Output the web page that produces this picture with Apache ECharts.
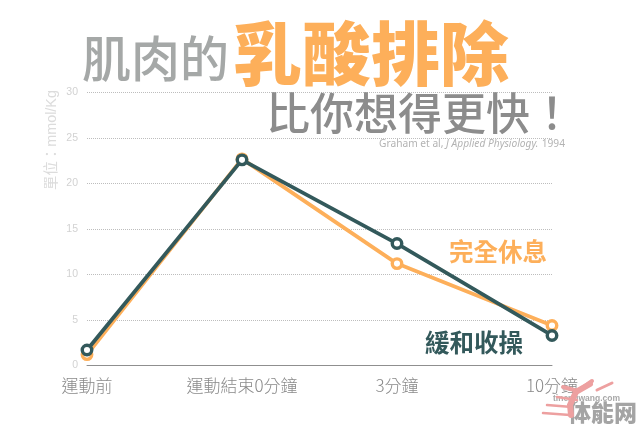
<!DOCTYPE html>
<html><head><meta charset="utf-8">
<script src="https://cdn.jsdelivr.net/npm/echarts@6/dist/echarts.min.js"></script>
<style>html,body{margin:0;padding:0;background:#fff}#c{width:640px;height:424px}</style></head>
<body><div id="c"></div>
<script>
const categories = ['運動前','運動結束0分鐘','3分鐘','10分鐘'];
const recovery = [1.2, 22.7, 11.2, 4.4];
const cooldown = [1.7, 22.6, 13.4, 3.3];
const yTicks = [0,5,10,15,20,25,30];
const CJK = '"Noto Sans CJK TC","Noto Sans CJK SC",sans-serif';
const chart = echarts.init(document.getElementById('c'), null, {renderer:'canvas'});
function ser(name,data,color,z){
  return {name,type:'line',data,z,symbol:'circle',symbolSize:9.5,showSymbol:true,
    lineStyle:{color,width:3.8},
    itemStyle:{color:'#fff',borderColor:color,borderWidth:3.4},animation:false};
}
function t(text,x,y,size,color,weight,extra){
  return {type:'text',left:x,top:y,z:20,silent:true,style:Object.assign({text,fontSize:size,fill:color,fontWeight:weight||'normal',fontFamily:CJK},extra||{})};
}
function streak(points,w){
  return {type:'polyline',z:21,silent:true,shape:{points},style:{stroke:'#eda0a0',lineWidth:w,fill:null,lineCap:'round'}};
}
chart.setOption({
  animation:false,
  backgroundColor:'#fff',
  grid:{left:87,right:88,top:92.5,bottom:58.5},
  xAxis:{type:'category',boundaryGap:false,data:categories,
    axisLine:{lineStyle:{color:'#8f8f8f',width:1}},axisTick:{show:false},
    axisLabel:{color:'#8a8a8a',fontSize:17,fontFamily:CJK,margin:12,fontWeight:300}},
  yAxis:{type:'value',min:0,max:30,interval:5,
    axisLine:{show:false},axisTick:{show:false},
    axisLabel:{color:'#d2d2d2',fontSize:10.5,margin:9,fontFamily:'"Liberation Sans",sans-serif',
      formatter:v=>yTicks.includes(v)?String(v):''},
    splitLine:{show:true,lineStyle:{color:'#bdbdbd',type:[1,1],width:1},showMinLine:false}},
  series:[ser('完全休息',recovery,'#fdaf5a',2),ser('緩和收操',cooldown,'#33595b',3)],
  graphic:[
    {type:'text',x:52,y:140,rotation:Math.PI/2,z:20,silent:true,style:{text:'單位：mmol/Kg',fontSize:14.4,fill:'#dcdcdc',fontFamily:'"Liberation Sans","Noto Sans CJK TC",sans-serif',align:'center',verticalAlign:'middle'}},
    t('肌肉的',82,34,49,'#a5a8a7','500'),
    t('乳酸排除',233,19,69,'#fdaf5a','900'),
    t('比你想得更快！',266,91,44,'#8c8c8c','500'),
    {type:'text',left:379,top:138,z:20,silent:true,style:{
      rich:{a:{fontSize:10.2,fill:'#b3b3b3',fontFamily:'"Noto Sans","Open Sans",sans-serif'},
            b:{fontSize:10.2,fill:'#b3b3b3',fontStyle:'italic',fontFamily:'"Noto Sans","Open Sans",sans-serif'}},
      text:'{a|Graham et al, }{b|J Applied Physiology.} {a|1994}'}},
    t('完全休息',449,239,24.5,'#fdaf5a','700'),
    t('緩和收操',425,330,24.5,'#33595b','700'),
    streak([[563,387],[578,391],[592,381]],4),
    streak([[597,390],[612,383]],3),
    streak([[590,384],[576,392],[570,405],[571,415]],6),
    streak([[557,397],[577,400]],2.5),
    streak([[547,405],[572,407]],2.5),
    streak([[543,413],[570,415]],2.5),
    t('体能网',568,401,23,'#9a9a9a','900',{opacity:0.9}),
    t('tinengwang.com',553,394,8.5,'#a8a8a8','700',{fontFamily:'"Liberation Sans",sans-serif'})
  ]
});
</script></body></html>
